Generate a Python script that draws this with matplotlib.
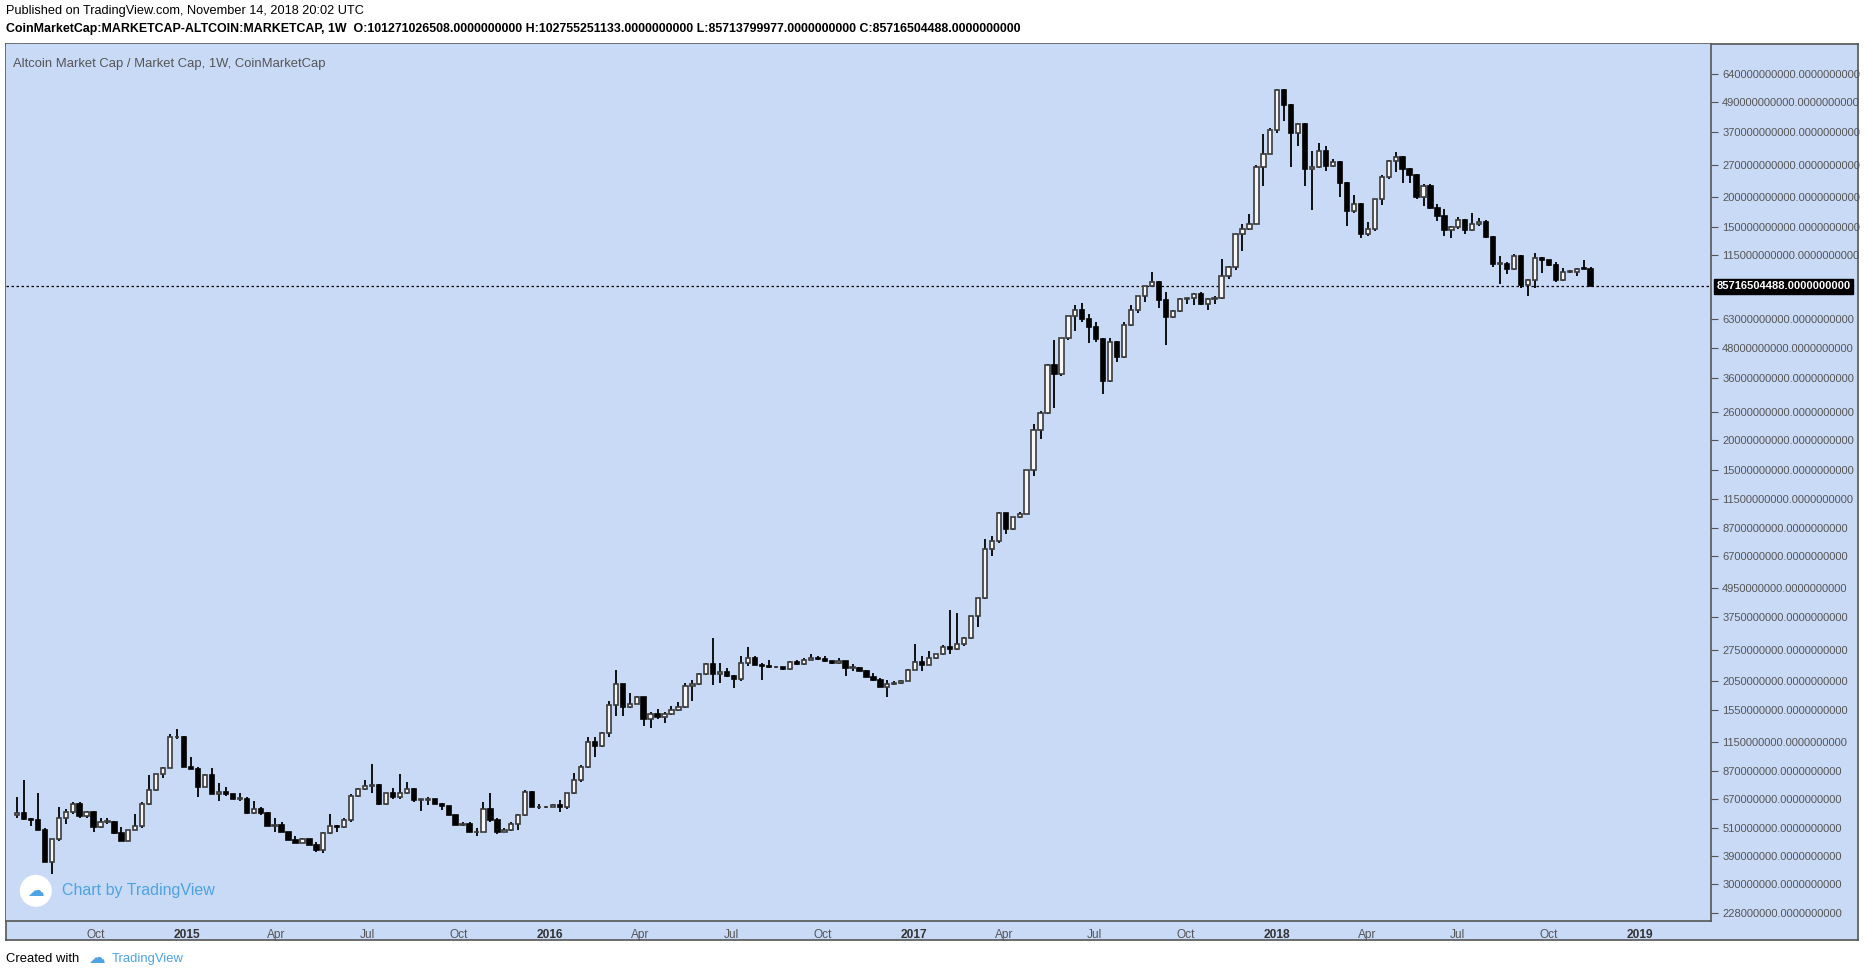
import matplotlib
matplotlib.use("Agg")
import matplotlib.pyplot as plt
import matplotlib.dates as mdates
from matplotlib.patches import Ellipse
import numpy as np
import pandas as pd

plt.rcParams["font.family"] = "Liberation Sans"

# weekly OHLC in billions USD
opens = [.575,.585,.555,.55,.50,.37,.46,.56,.59,.64,.57,.59,.515,.54,.54,.485,.45,.50,.52,.64,
         .73,.85,.90,1.20,1.20,.91,.89,.75,.84,.70,.715,.70,.67,.67,.585,.61,.585,.52,.525,.49,
         .455,.44,.46,.435,.415,.485,.52,.515,.55,.69,.735,.76,.765,.64,.71,.68,.71,.735,.665,.665,
         .67,.64,.625,.575,.525,.53,.49,.49,.61,.55,.49,.50,.53,.575,.715,.62,.62,.62,.635,.62,
         .71,.80,.91,1.15,1.11,1.25,1.63,1.98,1.60,1.65,1.75,1.43,1.50,1.45,1.49,1.56,1.60,1.95,1.98,2.18,
         2.40,2.18,2.22,2.15,2.09,2.42,2.54,2.39,2.35,2.33,2.33,2.29,2.44,2.40,2.50,2.55,2.51,2.46,2.42,2.46,
         2.32,2.32,2.25,2.13,2.06,1.94,1.99,2.0,2.05,2.28,2.44,2.38,2.55,2.63,2.81,2.76,2.90,3.07,3.78,4.47,
         7.12,7.67,10.0,8.6,9.64,9.9,15.0,22.1,25.8,40.6,37.5,52.3,64.4,68.5,63,58.4,52.1,34.9,50.4,43.7,
         59.6,68.5,78.3,86,89.3,75.2,64.2,68,76.2,76.5,79.4,72.6,76.2,76.5,94.6,103,140,148,155,266,
         301,377,551,477,366,400,261,266,308,268,277,227,175,186,140,147,195,240,280,292,
         260,246,200,221,180,167,146,150,160,146,154,158,137,106,106,101,114,87,90.6,112.5,
         110,105,91,98.5,98.5,102,101.271026508]
highs = [.68,.80,.56,.71,.51,.46,.62,.61,.65,.65,.60,.60,.56,.56,.545,.515,.50,.58,.65,.84,
         .85,.91,1.24,1.30,1.22,1.0,.91,.85,.90,.78,.75,.70,.71,.68,.66,.62,.59,.56,.54,.49,
         .47,.465,.46,.445,.49,.58,.525,.56,.70,.74,.80,.93,.77,.71,.74,.85,.79,.74,.67,.68,
         .67,.645,.625,.575,.54,.54,.51,.65,.71,.56,.51,.54,.58,.73,.72,.64,.625,.64,.665,.71,
         .86,.92,1.2,1.2,1.26,1.7,2.28,1.98,1.83,1.78,1.75,1.53,1.57,1.53,1.62,1.68,2.0,2.06,2.2,2.42,
         3.06,2.43,2.31,2.17,2.59,2.83,2.6,2.42,2.5,2.36,2.34,2.46,2.5,2.55,2.64,2.58,2.6,2.47,2.54,2.48,
         2.4,2.33,2.26,2.2,2.1,2.07,2.04,2.07,2.30,2.9,2.58,2.71,2.65,2.87,4.0,3.9,3.1,3.8,4.5,7.84,
         8.06,10.1,10.0,9.7,10.1,15.1,23.3,26.4,41,51.5,52.5,65,71.6,73.4,65.7,61,52.3,52.3,51,60.9,
         71.6,78.5,86.3,98,90,81.3,68.3,77,77,80.7,81,77,78.3,110.5,104,141,155,170,270,363,
         384,556,556,480,402,402,308,332,324,285,280,230,204,188,157,196,246,284,305,295,
         263,248,225,226,186,178,151,165,162,172,164,160,138,114,108,116,115,92,117,113,
         110,108,102,100,102,110,102.755251133]
lows = [.56,.55,.52,.50,.37,.33,.45,.53,.58,.56,.56,.49,.51,.53,.48,.45,.45,.50,.51,.63,
        .72,.82,.90,1.18,.91,.89,.68,.75,.70,.66,.69,.67,.66,.58,.58,.575,.52,.49,.49,.455,
        .44,.44,.435,.405,.40,.48,.49,.51,.54,.68,.73,.71,.63,.63,.67,.67,.70,.65,.60,.63,
        .64,.605,.575,.525,.52,.49,.47,.49,.54,.48,.49,.495,.50,.57,.62,.61,.615,.62,.59,.61,
        .70,.79,.90,1.0,1.1,1.2,1.47,1.47,1.58,1.64,1.33,1.31,1.43,1.37,1.48,1.54,1.58,1.70,1.97,2.17,
        1.96,2.0,2.12,1.92,2.05,2.35,2.38,2.07,2.32,2.31,2.27,2.28,2.38,2.39,2.49,2.49,2.45,2.40,2.40,2.15,
        2.25,2.24,2.12,2.05,1.93,1.76,1.97,1.99,2.04,2.27,2.24,2.37,2.53,2.62,2.65,2.74,2.86,3.05,3.42,4.45,
        6.69,7.55,8.2,8.5,9.6,9.9,14.2,20.2,25.5,27,36.5,51.5,56.2,61.3,50.3,50.5,31,34.6,41.7,43.5,
        59,66.3,73.9,85,69.8,49.4,63.5,67.5,72.5,71.5,71.5,68.6,72.4,76,91.7,100,120,146,154,222,
        300,366,410,266,322,222,177,262,256,266,200,151,172,136,138,145,185,236,252,228,
        228,196,183,178,159,138,136,148,140,144,152,136,103,88,96,100,84.5,78,84,97,
        104,89.5,90,97,94.5,100.5,85.713799977]
closes = [.585,.555,.55,.50,.37,.46,.56,.59,.64,.57,.59,.515,.54,.54,.485,.45,.50,.52,.64,.73,
          .85,.90,1.20,1.20,.91,.89,.75,.84,.70,.715,.70,.67,.67,.585,.61,.585,.52,.525,.49,.455,
          .44,.46,.435,.415,.485,.52,.515,.55,.69,.735,.76,.765,.64,.71,.68,.71,.735,.665,.665,.67,
          .64,.625,.575,.525,.53,.49,.49,.61,.55,.49,.50,.53,.575,.715,.62,.62,.62,.635,.62,.71,
          .80,.91,1.15,1.11,1.25,1.63,1.98,1.60,1.65,1.75,1.43,1.50,1.45,1.49,1.56,1.60,1.95,1.98,2.18,2.40,
          2.18,2.22,2.15,2.09,2.42,2.54,2.39,2.35,2.33,2.33,2.29,2.44,2.40,2.50,2.55,2.51,2.46,2.42,2.46,2.32,
          2.32,2.25,2.13,2.06,1.94,1.99,2.0,2.05,2.28,2.44,2.38,2.55,2.63,2.81,2.76,2.90,3.07,3.78,4.47,7.12,
          7.67,10.0,8.6,9.64,9.9,15.0,22.1,25.8,40.6,37.5,52.3,64.4,68.5,63,58.4,52.1,34.9,50.4,43.7,59.6,
          68.5,78.3,86,89.3,75.2,64.2,68,76.2,76.5,79.4,72.6,76.2,76.5,94.6,103,140,148,155,266,301,
          377,551,477,366,400,261,266,308,268,277,227,175,186,140,147,195,240,280,292,260,
          246,200,221,180,167,146,150,160,146,154,158,137,106,106,101,114,87,90.6,112.5,110,
          105,91,98.5,98.5,101,101.271026508,85.716504488]

last_week = "2018-11-12"
last_close = 85716504488
y_tick_values = [640e9, 490e9, 370e9, 270e9, 200e9, 150e9, 115e9, 63e9, 48e9, 36e9, 26e9, 20e9,
                 15e9, 11.5e9, 8.7e9, 6.7e9, 4.95e9, 3.75e9, 2.75e9, 2.05e9, 1.55e9, 1.15e9,
                 870e6, 670e6, 510e6, 390e6, 300e6, 228e6]
x_tick_dates = ["2014-10-01", "2015-01-01", "2015-04-01", "2015-07-01", "2015-10-01", "2016-01-01",
                "2016-04-01", "2016-07-01", "2016-10-01", "2017-01-01", "2017-04-01", "2017-07-01",
                "2017-10-01", "2018-01-01", "2018-04-01", "2018-07-01", "2018-10-01", "2019-01-01"]
x_tick_labels = ["Oct", "2015", "Apr", "Jul", "Oct", "2016", "Apr", "Jul", "Oct", "2017", "Apr",
                 "Jul", "Oct", "2018", "Apr", "Jul", "Oct", "2019"]

n = len(closes)
dates = pd.date_range(end=last_week, periods=n, freq="7D")
o = np.array(opens) * 1e9
h = np.array(highs) * 1e9
l = np.array(lows) * 1e9
c = np.array(closes) * 1e9

W, H = 1868, 977
BG = "#C9DAF7"
fig = plt.figure(figsize=(W / 100, H / 100), dpi=100)
fig.patch.set_facecolor("white")

fx0, fx1 = 6 / W, 1858 / W
fy0, fy1 = 1 - 940 / H, 1 - 44 / H
axbg = fig.add_axes([fx0, fy0, fx1 - fx0, fy1 - fy0], zorder=0)
axbg.set_facecolor(BG)
axbg.set_xticks([]); axbg.set_yticks([])
for s in axbg.spines.values():
    s.set_color("#555555"); s.set_linewidth(1.2)

ax_bottom = 1 - 921 / H
ax = fig.add_axes([fx0, ax_bottom, 1711 / W - fx0, fy1 - ax_bottom], zorder=1)
ax.set_facecolor(BG)
ax.set_yscale("log")
ax.set_ylim(211e6, 849e9)
ax.set_xlim(pd.Timestamp("2014-07-03"), pd.Timestamp("2019-03-13"))

up = c >= o
x = mdates.date2num(dates)
ax.vlines(x, l, h, color="black", lw=1.3, zorder=2)
bw = 4.3
bottom = np.minimum(o, c)
height = np.maximum(np.abs(c - o), bottom * 0.004)
ax.bar(x[up], height[up], bottom=bottom[up], width=bw, color="#F7F7F7",
       edgecolor="#3a3a3a", lw=1.2, zorder=3)
ax.bar(x[~up], height[~up], bottom=bottom[~up], width=bw, color="black",
       edgecolor="black", lw=1.2, zorder=3)

ax.axhline(last_close, color="black", lw=0.9, ls=(0, (2, 2)), zorder=1)

ax.yaxis.tick_right()
ax.set_yticks(y_tick_values)
ax.set_yticklabels([f"{int(round(v))}.0000000000" for v in y_tick_values])
ax.yaxis.set_minor_locator(matplotlib.ticker.NullLocator())
ax.tick_params(axis="y", which="major", direction="out", length=5, pad=3, width=0.8,
               color="#555555", labelcolor="#555555", labelsize=8.0)

ax.set_xticks([mdates.date2num(pd.Timestamp(d)) for d in x_tick_dates])
ax.set_xticklabels(x_tick_labels)
ax.tick_params(axis="x", length=0, pad=6, labelcolor="#555555", labelsize=8.6)
for lab in ax.get_xticklabels():
    if lab.get_text().isdigit():
        lab.set_fontweight("bold")
        lab.set_color("#333333")

for s in ["top", "left"]:
    ax.spines[s].set_visible(False)
for s in ["right", "bottom"]:
    ax.spines[s].set_color("#555555")
    ax.spines[s].set_linewidth(1.2)

ax.annotate(f"{last_close}.0000000000", xy=(1.0, last_close),
            xycoords=("axes fraction", "data"), xytext=(4, 0), textcoords="offset points",
            va="center", ha="left", color="white", fontsize=8.0, fontweight="bold",
            bbox=dict(boxstyle="square,pad=0.25", fc="black", ec="black"), zorder=10,
            annotation_clip=False)

ax.text(0.004, 0.984, "Altcoin Market Cap / Market Cap, 1W, CoinMarketCap", transform=ax.transAxes,
        ha="left", va="top", fontsize=9.4, color="#555555")

# watermark
ax.add_patch(Ellipse((0.0175, 0.0344), 32 / 1705, 32 / 877, transform=ax.transAxes,
                     facecolor="white", edgecolor="none", zorder=5))
ax.text(0.0175, 0.0344, "\u2601", transform=ax.transAxes, ha="center", va="center",
        fontsize=12, color="#4DA3E3", family="DejaVu Sans", zorder=6)
ax.text(0.033, 0.0344, "Chart by TradingView", transform=ax.transAxes, ha="left", va="center",
        fontsize=11.5, color="#4DA3E3", zorder=6)

fig.text(6 / W, 1 - 11 / H, "Published on TradingView.com, November 14, 2018 20:02 UTC",
         ha="left", va="center", fontsize=9.2, color="black")
fig.text(6 / W, 1 - 29 / H,
         "CoinMarketCap:MARKETCAP-ALTCOIN:MARKETCAP, 1W  O:101271026508.0000000000 "
         "H:102755251133.0000000000 L:85713799977.0000000000 C:85716504488.0000000000",
         ha="left", va="center", fontsize=8.9, color="black", fontweight="bold")
fig.text(6 / W, 1 - 959 / H, "Created with", ha="left", va="center", fontsize=9.4, color="black")
fig.text(88 / W, 1 - 958 / H, "\u2601", ha="left", va="center", fontsize=12,
         color="#4DA3E3", family="DejaVu Sans")
fig.text(112 / W, 1 - 959 / H, "TradingView", ha="left", va="center", fontsize=9.4, color="#4DA3E3")

fig.savefig("out.png", dpi=100)
